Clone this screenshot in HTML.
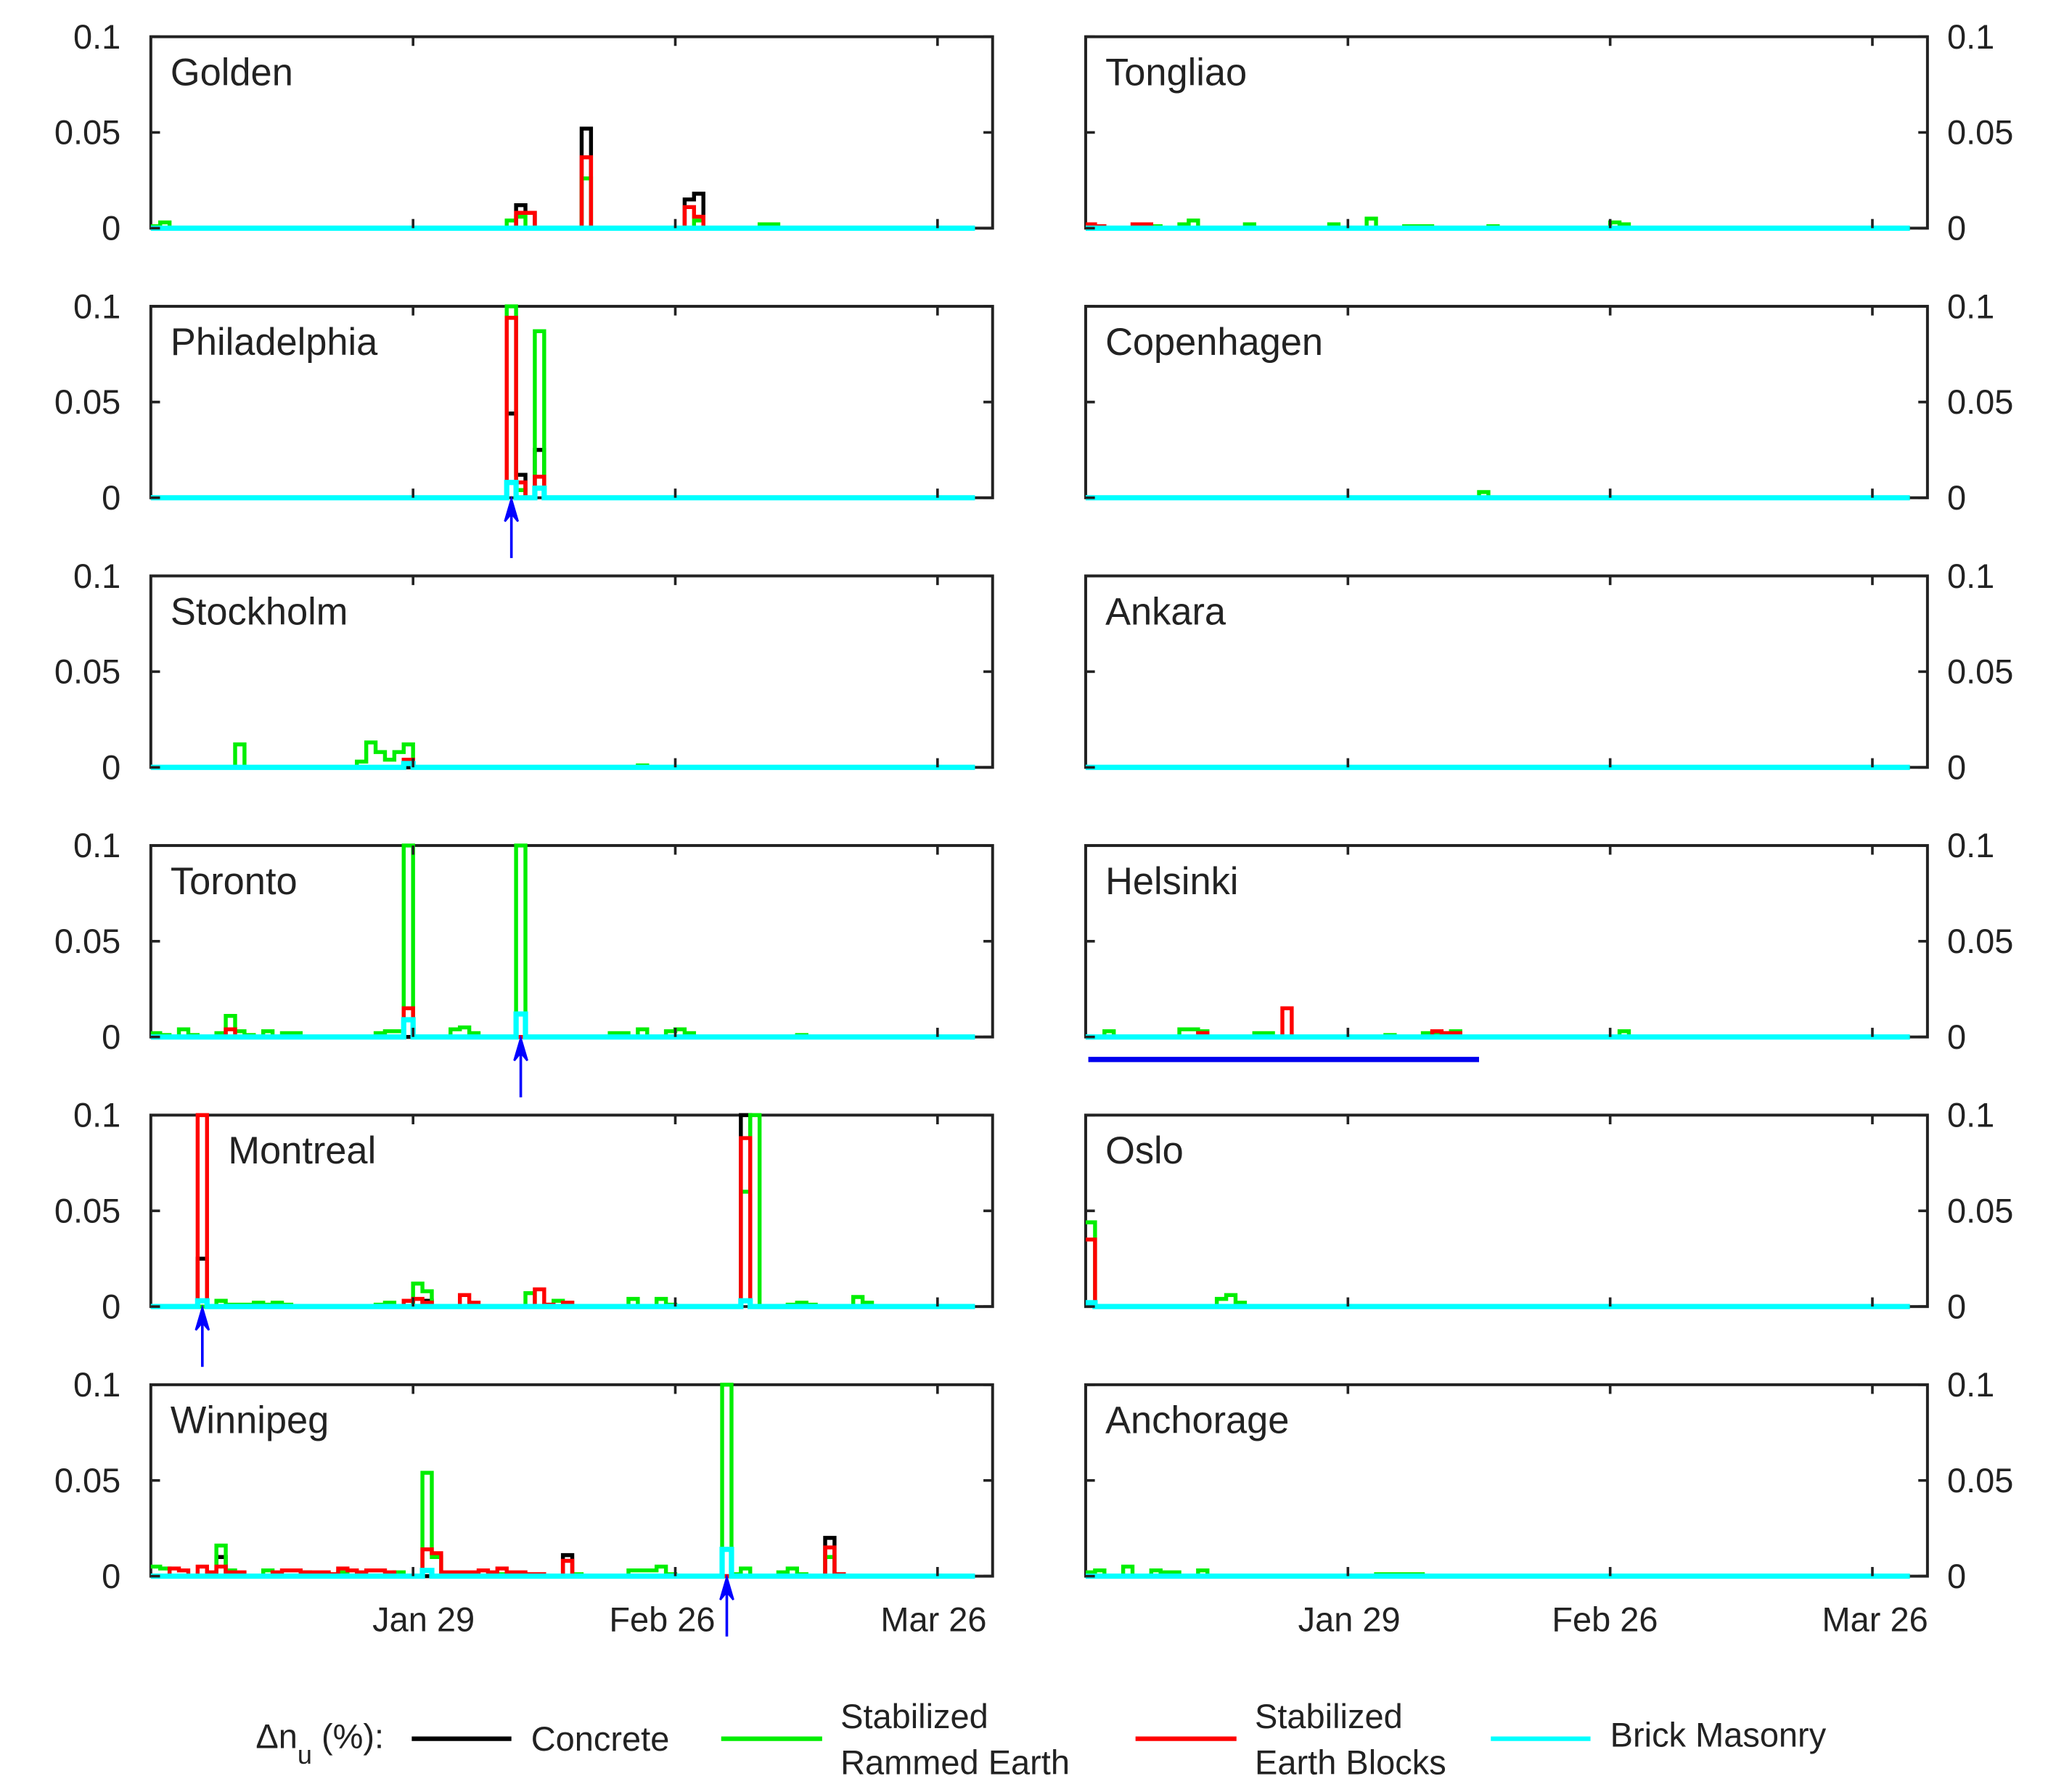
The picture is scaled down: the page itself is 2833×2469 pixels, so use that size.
<!DOCTYPE html>
<html><head><meta charset="utf-8"><style>
html,body{margin:0;padding:0;background:#fff}
svg{display:block}
text{font-family:"Liberation Sans",sans-serif;fill:#222}
</style></head><body>
<svg id="chart" width="2833" height="2469" viewBox="0 0 1568 1366.6" xmlns="http://www.w3.org/2000/svg">
<g id="panels"></g>
<g id="legend">
<text x="195" y="1333" font-size="26">Δn<tspan font-size="20" dy="12">u</tspan><tspan dy="-12"> (%):</tspan></text>
<line x1="314" y1="1326" x2="390" y2="1326" stroke="#000" stroke-width="3.5"/>
<text x="405" y="1335" font-size="26">Concrete</text>
<line x1="550" y1="1326" x2="627" y2="1326" stroke="#00ee00" stroke-width="3.5"/>
<text x="641" y="1318" font-size="26">Stabilized</text>
<text x="641" y="1353" font-size="26">Rammed Earth</text>
<line x1="866" y1="1326" x2="943" y2="1326" stroke="#ff0000" stroke-width="3.5"/>
<text x="957" y="1318" font-size="26">Stabilized</text>
<text x="957" y="1353" font-size="26">Earth Blocks</text>
<line x1="1137" y1="1326" x2="1213" y2="1326" stroke="#00ffff" stroke-width="3.5"/>
<text x="1228" y="1332" font-size="26">Brick Masonry</text>
</g>
</svg>
<script>
// Sparse daily data: [dayIndex from Jan 1, value]
const nDays = 88;
const cities = ["Golden","Philadelphia","Stockholm","Toronto","Montreal","Winnipeg","Tongliao","Copenhagen","Ankara","Helsinki","Oslo","Anchorage"];
const yTicks = [0, 0.05, 0.1];
const yTickLabels = ["0", "0.05", "0.1"];
const xTickDays = [28, 56, 84];
const xTickLabels = ["Jan 29", "Feb 26", "Mar 26"];

const goldenConcrete = [[39,0.012],[40,0.008],[46,0.052],[57,0.015],[58,0.018]];
const goldenRammed = [[0,0.001],[1,0.003],[38,0.004],[39,0.006],[46,0.026],[58,0.004],[65,0.002],[66,0.002]];
const goldenBlocks = [[39,0.008],[40,0.008],[46,0.037],[57,0.011],[58,0.006]];
const goldenBrick = [];

const philaConcrete = [[38,0.044],[39,0.012],[41,0.025]];
const philaRammed = [[38,0.12],[39,0.004],[41,0.087]];
const philaBlocks = [[38,0.094],[39,0.008],[41,0.011]];
const philaBrick = [[38,0.008],[41,0.005]];

const stockConcrete = [];
const stockRammed = [[9,0.012],[22,0.003],[23,0.013],[24,0.008],[25,0.004],[26,0.008],[27,0.012],[52,0.001]];
const stockBlocks = [[27,0.004]];
const stockBrick = [[27,0.002]];

const torontoConcrete = [];
const torontoRammed = [[0,0.002],[1,0.001],[3,0.004],[4,0.001],[7,0.002],[8,0.011],[9,0.003],[10,0.001],[12,0.003],[14,0.002],[15,0.002],[24,0.002],[25,0.003],[26,0.003],[27,0.12],[32,0.004],[33,0.005],[34,0.002],[39,0.12],[49,0.002],[50,0.002],[52,0.004],[55,0.003],[56,0.004],[57,0.002],[69,0.001]];
const torontoBlocks = [[8,0.004],[27,0.015]];
const torontoBrick = [[27,0.009],[39,0.012]];

const montrealConcrete = [[5,0.025],[29,0.003],[63,0.12]];
const montrealRammed = [[7,0.003],[8,0.001],[9,0.001],[10,0.001],[11,0.002],[12,0.001],[13,0.002],[14,0.001],[24,0.001],[25,0.002],[28,0.012],[29,0.008],[40,0.007],[42,0.001],[43,0.003],[44,0.002],[51,0.004],[54,0.004],[55,0.001],[63,0.06],[64,0.12],[68,0.001],[69,0.002],[70,0.001],[75,0.005],[76,0.002]];
const montrealBlocks = [[5,0.12],[27,0.003],[28,0.004],[29,0.002],[33,0.006],[34,0.002],[41,0.009],[42,0.001],[44,0.002],[63,0.088]];
const montrealBrick = [[5,0.003],[63,0.003]];

const winnipegConcrete = [[7,0.01],[44,0.011],[72,0.02]];
const winnipegRammed = [[0,0.005],[1,0.004],[7,0.016],[8,0.003],[12,0.003],[16,0.002],[20,0.002],[26,0.002],[29,0.054],[30,0.01],[37,0.001],[45,0.001],[51,0.003],[52,0.003],[53,0.003],[54,0.005],[55,0.001],[61,0.12],[62,0.001],[63,0.004],[67,0.002],[68,0.004],[69,0.001],[72,0.01]];
const winnipegBlocks = [[2,0.004],[3,0.003],[5,0.005],[6,0.002],[7,0.005],[8,0.002],[9,0.002],[13,0.002],[14,0.003],[15,0.003],[16,0.002],[17,0.002],[18,0.002],[19,0.001],[20,0.004],[21,0.003],[22,0.002],[23,0.003],[24,0.003],[25,0.002],[29,0.014],[30,0.012],[31,0.002],[32,0.002],[33,0.002],[34,0.002],[35,0.003],[36,0.002],[37,0.004],[38,0.002],[39,0.002],[40,0.001],[41,0.001],[44,0.008],[72,0.015],[73,0.001]];
const winnipegBrick = [[29,0.003],[61,0.014]];

const tongConcrete = [];
const tongRammed = [[7,0.001],[10,0.002],[11,0.004],[17,0.002],[26,0.002],[30,0.005],[34,0.001],[35,0.001],[36,0.001],[43,0.001],[56,0.003],[57,0.002]];
const tongBlocks = [[0,0.002],[1,0.001],[5,0.002],[6,0.002]];
const tongBrick = [];

const copenConcrete = [];
const copenRammed = [[42,0.003]];
const copenBlocks = [];
const copenBrick = [];

const ankaraConcrete = [];
const ankaraRammed = [];
const ankaraBlocks = [];
const ankaraBrick = [];

const helsConcrete = [];
const helsRammed = [[2,0.003],[10,0.004],[11,0.004],[12,0.003],[18,0.002],[19,0.002],[32,0.001],[36,0.002],[37,0.002],[38,0.002],[39,0.003],[57,0.003]];
const helsBlocks = [[12,0.002],[21,0.015],[37,0.003],[38,0.002],[39,0.002]];
const helsBrick = [];

const osloConcrete = [[0,0.002]];
const osloRammed = [[0,0.044],[14,0.004],[15,0.006],[16,0.002]];
const osloBlocks = [[0,0.035]];
const osloBrick = [[0,0.002]];

const anchConcrete = [];
const anchRammed = [[0,0.002],[1,0.003],[4,0.005],[7,0.003],[8,0.002],[9,0.002],[12,0.003],[31,0.001],[32,0.001],[33,0.001],[34,0.001],[35,0.001]];
const anchBlocks = [];
const anchBrick = [];

const cityData = [
 [goldenConcrete,goldenRammed,goldenBlocks,goldenBrick],
 [philaConcrete,philaRammed,philaBlocks,philaBrick],
 [stockConcrete,stockRammed,stockBlocks,stockBrick],
 [torontoConcrete,torontoRammed,torontoBlocks,torontoBrick],
 [montrealConcrete,montrealRammed,montrealBlocks,montrealBrick],
 [winnipegConcrete,winnipegRammed,winnipegBlocks,winnipegBrick],
 [tongConcrete,tongRammed,tongBlocks,tongBrick],
 [copenConcrete,copenRammed,copenBlocks,copenBrick],
 [ankaraConcrete,ankaraRammed,ankaraBlocks,ankaraBrick],
 [helsConcrete,helsRammed,helsBlocks,helsBrick],
 [osloConcrete,osloRammed,osloBlocks,osloBrick],
 [anchConcrete,anchRammed,anchBlocks,anchBrick]
];
const seriesNames = ["concrete","rammed-earth","earth-blocks","brick-masonry"];
const seriesColors = ["#000000","#00ee00","#ff0000","#00ffff"];
const seriesWidths = [3, 3, 3, 4];

// arrows: [panelIndex, day]
const arrowPanels = [1,3,4,5];
const arrowDays = [38.5,39.5,5.5,61.5];

const NS = "http://www.w3.org/2000/svg";
const root = document.getElementById("panels");
const colX = [115, 828];
const panelW = 642, panelH = 146, rowStep = 205.6, top0 = 28;
const dayW = 200/28;

function mk(tag, attrs, parent){
  const e = document.createElementNS(NS, tag);
  for (const k in attrs) e.setAttribute(k, attrs[k]);
  parent.appendChild(e);
  return e;
}

cities.forEach((city, i) => {
  const col = i < 6 ? 0 : 1;
  const row = i % 6;
  const x0 = colX[col], y0 = top0 + row*rowStep, yb = y0 + panelH;
  const xS = d => x0 + d*dayW;
  const yS = v => yb - Math.min(v, 0.1)/0.1*panelH;
  const g = mk("g", {}, root);
  
  

  const fr = mk("rect", {x: x0, y: y0, width: panelW, height: panelH, fill: "none", stroke: "#222", "stroke-width": 2.2}, g);
  
  

  cityData[i].forEach((sparse, s) => {
    const dense = new Array(nDays).fill(0);
    sparse.forEach(p => { dense[p[0]] = p[1]; });
    let d = "M" + xS(0) + " " + yS(dense[0]);
    for (let k = 0; k < nDays; k++) {
      d += " H" + xS(k+1).toFixed(2);
      if (k+1 < nDays && dense[k+1] !== dense[k]) d += " V" + yS(dense[k+1]).toFixed(2);
    }
    const p = mk("path", {d: d, fill: "none", stroke: seriesColors[s], "stroke-width": seriesWidths[s], "stroke-linejoin": "miter"}, g);
    
    
  });

  xTickDays.forEach((td, k) => {
    const tx = xS(td);
    const t1 = mk("line", {x1: tx, y1: y0, x2: tx, y2: y0+7, stroke: "#222", "stroke-width": 2}, g);
    
    
    const t2 = mk("line", {x1: tx, y1: yb, x2: tx, y2: yb-7, stroke: "#222", "stroke-width": 2}, g);
    
    
    if (row === 5) {
      const lt = mk("text", {x: tx + (col===0 ? [8,-10,-3][k] : [1,-4,2][k]), y: yb + 42, "font-size": 26, "text-anchor": "middle", fill: "#444"}, g);
      lt.textContent = xTickLabels[k];
      
      
    }
  });

  yTicks.forEach((v, k) => {
    const ty = yS(v);
    const a = mk("line", {x1: x0, y1: ty, x2: x0+7, y2: ty, stroke: "#222", "stroke-width": 2}, g);
    
    
    const b = mk("line", {x1: x0+panelW, y1: ty, x2: x0+panelW-7, y2: ty, stroke: "#222", "stroke-width": 2}, g);
    
    
    const lt = mk("text", col===0 ? {x: 92, y: ty+9, "font-size": 26, "text-anchor": "end"} : {x: 1485, y: ty+9, "font-size": 26, "text-anchor": "start"}, g);
    lt.textContent = yTickLabels[k];
    
    
  });

  const tt = mk("text", {x: x0 + (city === "Montreal" ? 59 : 15), y: y0 + 37, "font-size": 29}, g);
  tt.textContent = city;
  
  
});

arrowPanels.forEach((pi, k) => {
  const row = pi % 6, col = pi < 6 ? 0 : 1;
  const yb = top0 + row*rowStep + panelH;
  const ax = colX[col] + arrowDays[k]*dayW;
  const g = mk("g", {}, root);
  
  
  mk("line", {x1: ax, y1: yb+46, x2: ax, y2: yb+2, stroke: "#0000ff", "stroke-width": 2}, g);
  mk("path", {d: `M${ax-5} ${yb+18} L${ax} ${yb+1} L${ax+5} ${yb+18} L${ax} ${yb+12} Z`, fill: "#0000ff", stroke: "#0000ff", "stroke-width": 1.5}, g);
});

const hb = mk("line", {x1: 830, y1: 808, x2: 1128, y2: 808, stroke: "#0000ee", "stroke-width": 4}, root);


</script>
</body></html>
